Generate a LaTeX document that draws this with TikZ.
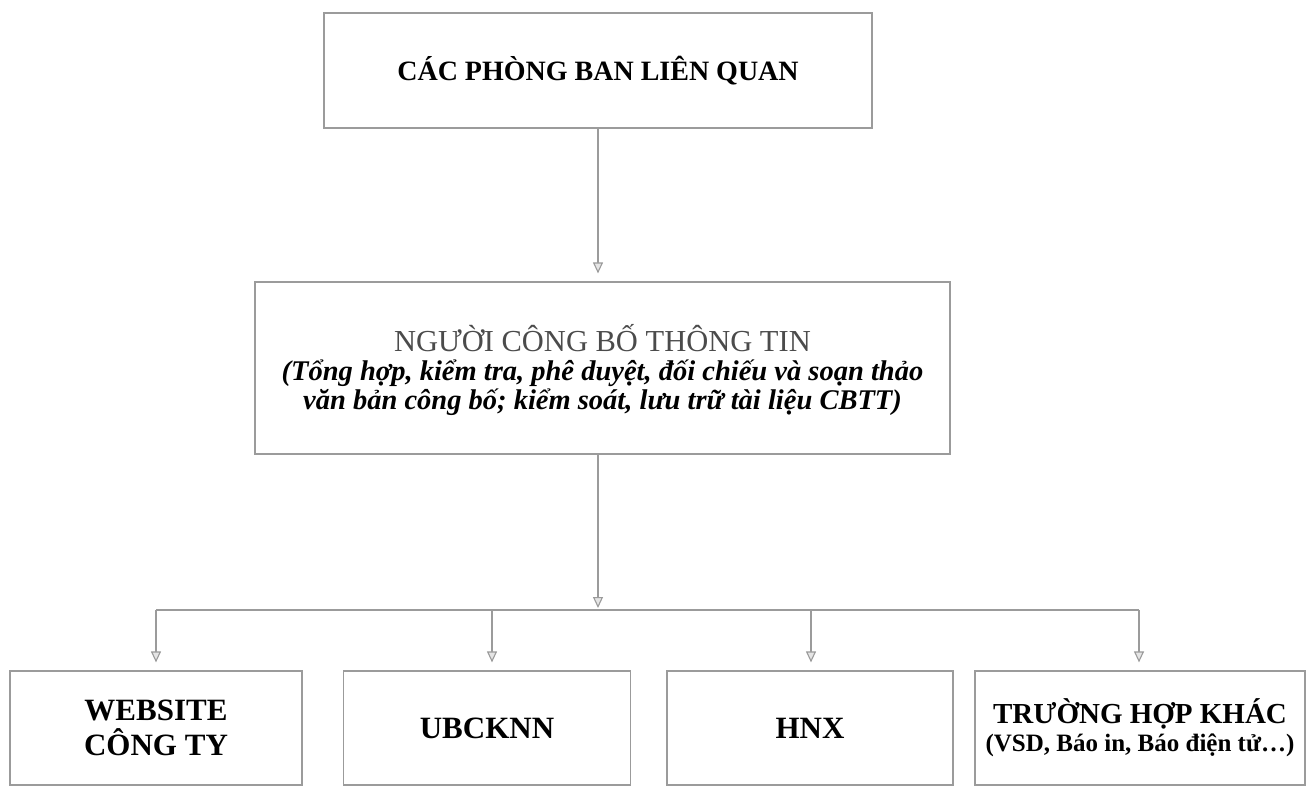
\documentclass[tikz,border=0pt]{standalone}
\usepackage{fontspec}
\setmainfont{Liberation Serif}
\usetikzlibrary{arrows.meta}
\definecolor{linegray}{RGB}{155,155,155}
\definecolor{titlegray}{RGB}{75,75,75}
\begin{document}
\begin{tikzpicture}[x=1pt,y=-1pt,
  box/.style={draw=linegray, line width=1.2pt, inner sep=0pt, align=center},
  conn/.style={draw=linegray, line width=1.1pt},
  arr/.style={conn, -{Triangle[length=11pt,width=10pt,open,fill=gray!20]}, shorten >=8pt},
  bigbold/.style={font=\fontsize{31}{35}\selectfont\bfseries}]
\useasboundingbox (0,0) rectangle (1309,787);
% boxes
\node[box, minimum width=548pt, minimum height=115pt, font=\fontsize{28}{30}\selectfont\bfseries] (top) at (598,70.5) {CÁC PHÒNG BAN LIÊN QUAN};
\node[box, minimum width=695pt, minimum height=172pt] (mid) at (602.5,368) {};
\node[align=center, inner sep=0pt, font=\fontsize{28.5}{29}\selectfont] (midtext) at (602.5,370)
  {{\fontsize{30.5}{29}\selectfont\color{titlegray}NGƯỜI CÔNG BỐ THÔNG TIN}\\
   {\bfseries\itshape (Tổng hợp, kiểm tra, phê duyệt, đối chiếu và soạn thảo}\\
   {\bfseries\itshape văn bản công bố; kiểm soát, lưu trữ tài liệu CBTT)}};
\node[box, minimum width=292pt, minimum height=114pt, bigbold] (b1) at (156,728) {WEBSITE\\CÔNG TY};
\node[box, minimum width=287pt, minimum height=114pt, bigbold] (b2) at (487,728) {UBCKNN};
\node[box, minimum width=286pt, minimum height=114pt, bigbold] (b3) at (810,728) {HNX};
\node[box, minimum width=330pt, minimum height=114pt, font=\fontsize{25}{28}\selectfont\bfseries] (b4) at (1140,728)
  {{\fontsize{29}{28}\selectfont TRƯỜNG HỢP KHÁC}\\
   (VSD, Báo in, Báo điện tử…)};
% connectors
\coordinate (c1) at (598,0);
\coordinate (hub) at (598,610);
\coordinate (busL) at (156,610);
\coordinate (d2) at (492,610);
\coordinate (d3) at (811,610);
\coordinate (busR) at (1139,610);
\draw[arr] (top.south -| c1) -- (mid.north -| c1);
\draw[conn] (busL) -- (busR);
\draw[arr, shorten >=2pt] (mid.south -| hub) -- (hub);
\draw[arr] (busL) -- (b1.north -| busL);
\draw[arr] (d2) -- (b2.north -| d2);
\draw[arr] (d3) -- (b3.north -| d3);
\draw[arr] (busR) -- (b4.north -| busR);
\end{tikzpicture}
\end{document}
